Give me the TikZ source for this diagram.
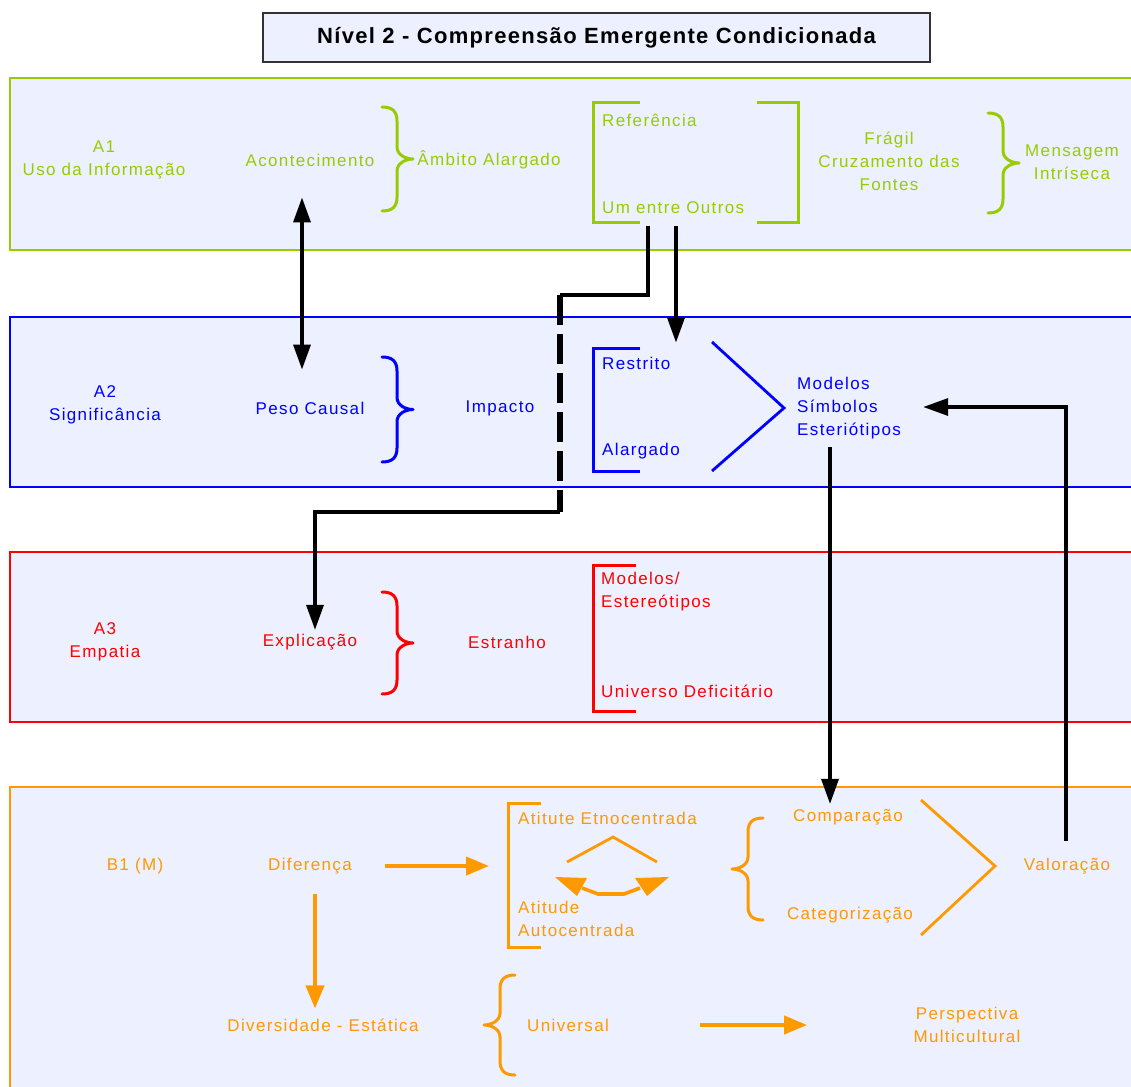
\documentclass[tikz,border=0pt]{standalone}
\usepackage{fontspec}
\setmainfont[LetterSpace=8]{Liberation Sans}
\newfontfamily\titlefont[LetterSpace=6]{Liberation Sans}
\usetikzlibrary{calc,arrows.meta}
\definecolor{grn}{HTML}{99CC00}
\definecolor{blu}{HTML}{0000FF}
\definecolor{rd}{HTML}{FF0000}
\definecolor{org}{HTML}{FF9900}
\definecolor{bandfill}{HTML}{ECF0FF}
\definecolor{tbord}{HTML}{333333}
\newcommand\bracR[4]{%
\draw[brc,#1] (#2,#3) .. controls ({#2+10},#3) and ({#2+15},{#3+4}) .. ({#2+15},{#3+14}) -- ({#2+15},{(#3+#4)/2-12}) .. controls ({#2+15},{(#3+#4)/2-4}) and ({#2+24},{(#3+#4)/2}) .. ({#2+31},{(#3+#4)/2}) .. controls ({#2+24},{(#3+#4)/2}) and ({#2+15},{(#3+#4)/2+4}) .. ({#2+15},{(#3+#4)/2+12}) -- ({#2+15},{#4-14}) .. controls ({#2+15},{#4-4}) and ({#2+10},#4) .. (#2,#4);}
\newcommand\bracL[4]{%
\draw[brc,#1] (#2,#3) .. controls ({#2-10},#3) and ({#2-15},{#3+4}) .. ({#2-15},{#3+14}) -- ({#2-15},{(#3+#4)/2-12}) .. controls ({#2-15},{(#3+#4)/2-4}) and ({#2-24},{(#3+#4)/2}) .. ({#2-31},{(#3+#4)/2}) .. controls ({#2-24},{(#3+#4)/2}) and ({#2-15},{(#3+#4)/2+4}) .. ({#2-15},{(#3+#4)/2+12}) -- ({#2-15},{#4-14}) .. controls ({#2-15},{#4-4}) and ({#2-10},#4) .. (#2,#4);}
\tikzset{
  band/.style={fill=bandfill, line width=2.2pt},
  txt/.style={inner sep=0pt, align=center, font=\fontsize{17}{23}\selectfont},
  ltxt/.style={txt, align=left, anchor=west},
  brc/.style={line width=3pt, line cap=round, line join=round},
  brk/.style={line width=3pt},
  bk/.style={line width=3.4pt, black},
  bkarr/.style={bk, -{Triangle[length=25pt,width=17pt]}},
  bkdbl/.style={bk, {Triangle[length=25pt,width=17pt]}-{Triangle[length=25pt,width=17pt]}},
  orarr/.style={org, line width=4pt, -{Triangle[length=23pt,width=18pt]}},
}
\begin{document}
\begin{tikzpicture}[x=1pt,y=-1pt]
\useasboundingbox (0,0) rectangle (1131,1086);
\clip (0,0) rectangle (1131,1086);
\fill[white] (0,0) rectangle (1131,1086);

% bands
\draw[band, draw=grn] (10,78) rectangle (1150,250);
\draw[band, draw=blu] (10,317) rectangle (1150,487);
\draw[band, draw=rd] (10,552) rectangle (1150,722);
\draw[band, draw=org] (10,787) rectangle (1150,1110);

% title
\node[draw=tbord, line width=2.4pt, fill=bandfill, minimum width=667pt, minimum height=49pt, inner sep=0pt,
      font=\titlefont\bfseries\fontsize{22}{26}\selectfont] (title) at (596.5,37.5) {Nível 2 - Compreensão Emergente Condicionada};

% ---------- A1 ----------
\begin{scope}[grn, text=grn]
\node[txt] (a1) at (104,160) {A1\\Uso da Informação};
\node[txt] (acont) at (310,160) {Acontecimento};
\bracR{grn}{382}{107}{211}
\node[txt] (ambito) at (489,160) {Âmbito Alargado};
\draw[brk] (640,103) -- (593,103) -- (593,222) -- (640,222);
\draw[brk] (757,103) -- (798,103) -- (798,222) -- (757,222);
\node[ltxt] (refer) at (602,120) {Referência};
\node[ltxt] (umentre) at (602,208) {Um entre Outros};
\node[txt] (fragil) at (889,161) {Frágil\\Cruzamento das\\Fontes};
\bracR{grn}{988}{113}{213}
\node[txt] (mens) at (1072,162) {Mensagem\\Intríseca};
\end{scope}

% ---------- A2 ----------
\begin{scope}[blu, text=blu]
\node[txt] (a2) at (105,405) {A2\\Significância};
\node[txt] (peso) at (310,408) {Peso Causal};
\bracR{blu}{382}{357}{462}
\node[txt] (impacto) at (500,408) {Impacto};
\draw[brk] (640,348) -- (593,348) -- (593,471) -- (640,471);
\node[ltxt] (restrito) at (602,363) {Restrito};
\node[ltxt] (alargado) at (602,451) {Alargado};
\draw[line width=2.8pt] (712,342) -- (784,408) -- (712,471);
\node[ltxt] (modelos) at (797,408) {Modelos\\Símbolos\\Esteriótipos};
\end{scope}

% ---------- A3 ----------
\begin{scope}[rd, text=rd]
\node[txt] (a3) at (105,642) {A3\\Empatia};
\node[txt] (explic) at (310,642) {Explicação};
\bracR{rd}{382}{592}{694}
\node[txt] (estranho) at (507,642) {Estranho};
\draw[brk] (636,565) -- (593,565) -- (593,711) -- (636,711);
\node[ltxt] (modest) at (601,592) {Modelos/\\Estereótipos};
\node[ltxt] (universo) at (601,691) {Universo Deficitário};
\end{scope}

% ---------- B1 ----------
\begin{scope}[org, text=org]
\node[txt] (b1) at (135,866) {B1 (M)};
\node[txt] (dif) at (310,866) {Diferença};
\draw[brk] (541,803) -- (508,803) -- (508,947) -- (541,947);
\node[ltxt] (etno) at (518,818) {Atitute Etnocentrada};
\node[ltxt] (auto) at (518,919) {Atitude\\Autocentrada};
\draw[line width=2.8pt] (567,862) -- (613,837) -- (657,862);
\coordinate (da) at (582,888);
\coordinate (db) at (640,888);
\draw[line width=3.6pt, line join=round] (da) -- (598,894) -- (624,894) -- (db);
\fill (555,877) -- (587,878) -- (577,896) -- cycle;
\fill (635,878) -- (669,877) -- (647,896) -- cycle;
\bracL{org}{763}{818}{920}
\node[txt] (compar) at (848,817) {Comparação};
\node[txt] (categ) at (850,915) {Categorização};
\draw[line width=2.8pt] (921,800) -- (995,866) -- (921,935);
\node[txt] (valor) at (1067,866) {Valoração};
\node[txt] (divers) at (323,1025) {Diversidade - Estática};
\bracL{org}{515}{975}{1075}
\node[ltxt] (univ) at (527,1025) {Universal};
\node[txt] (persp) at (967,1025) {Perspectiva\\Multicultural};
\end{scope}

% orange connectors
\draw[orarr] ($(dif.east)+(33,0)$) -- ($(dif.east)+(137,0)$);
\coordinate (o1) at ($(dif.south)+(5,20)$);
\coordinate (o2) at ($(divers.north)+(0,-10)$);
\draw[orarr] (o1) -- (o1 |- o2);
\draw[orarr] ($(univ.east)+(91,0)$) -- ($(univ.east)+(198,0)$);

% black connectors
\coordinate (s0) at ($(acont.south)+(-8,31)$);
\coordinate (e0) at ($(peso.north)+(-8,-32)$);
\draw[bkdbl] (s0) -- (s0 |- e0);

\coordinate (s1) at ($(umentre.south west)+(46,12)$);
\coordinate (d1) at (560,295);
\coordinate (d2) at (560,512);
\coordinate (e1) at ($(explic.north)+(5,-4)$);
\draw[bk] (s1) |- (d1);
\draw[black, line width=6.5pt, dash pattern=on 30pt off 9pt] (d1) -- (d2);
\draw[bkarr] (d2) -| (e1);

\coordinate (s2) at ($(umentre.south west)+(74,12)$);
\coordinate (e2) at ($(restrito.north)+(0,-14)$);
\draw[bkarr] (s2) -- (s2 |- e2);

\coordinate (s3) at ($(modelos.south west)+(33,8)$);
\coordinate (e3) at ($(compar.north)+(0,-5)$);
\draw[bkarr] (s3) -- (s3 |- e3);

\coordinate (s4) at ($(valor.north)+(-1,-17)$);
\coordinate (e4) at ($(modelos.east)+(22,-1)$);
\draw[bkarr] (s4) |- (e4);
\end{tikzpicture}
\end{document}
